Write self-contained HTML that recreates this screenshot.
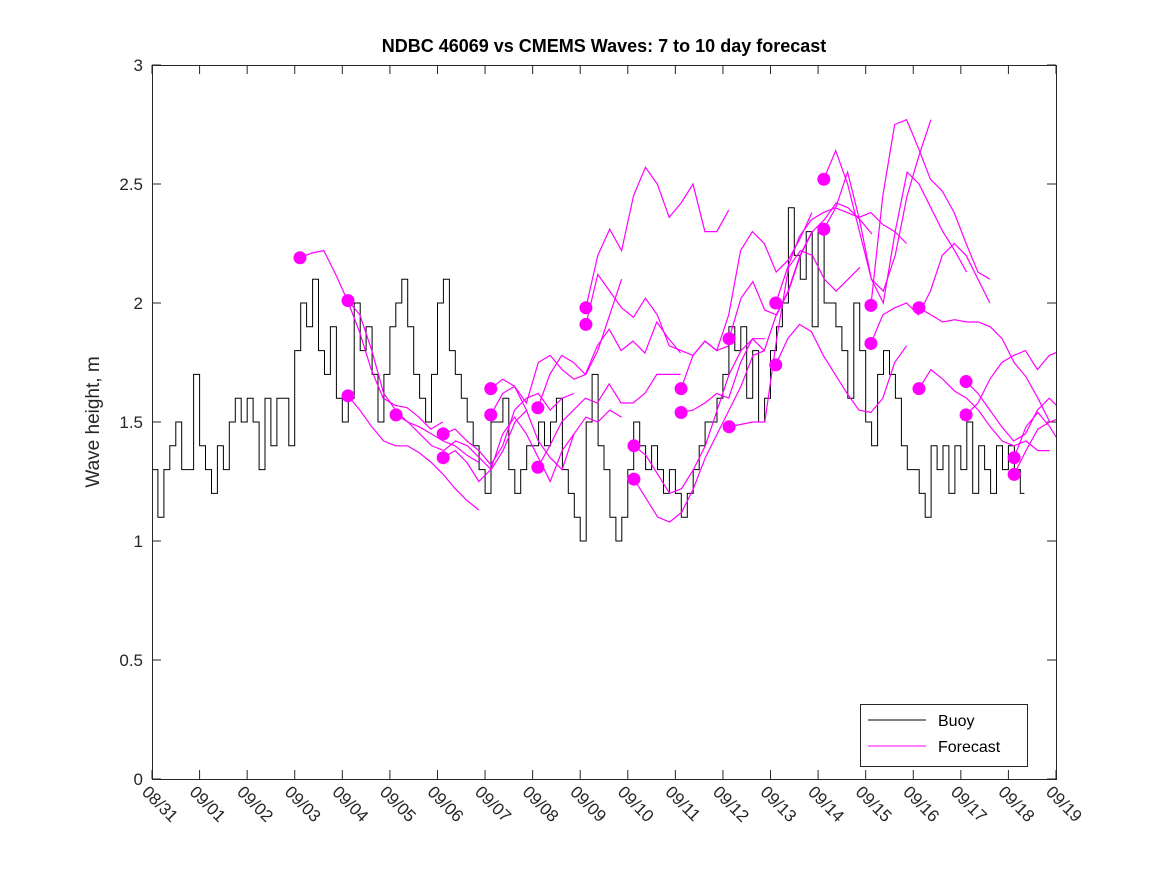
<!DOCTYPE html>
<html><head><meta charset="utf-8"><style>
body{margin:0;background:#fff;}
svg{display:block;font-family:"Liberation Sans","DejaVu Sans",sans-serif;}
</style></head><body>
<svg id="chart" width="1167" height="875" viewBox="0 0 1167 875" xmlns="http://www.w3.org/2000/svg">
<rect width="1167" height="875" fill="#fff"/>
<text x="604" y="52" text-anchor="middle" font-size="18" font-weight="bold" fill="#000">NDBC 46069 vs CMEMS Waves: 7 to 10 day forecast</text>
<text transform="translate(99,422) rotate(-90)" text-anchor="middle" font-size="19" fill="#262626">Wave height, m</text>
<defs><clipPath id="plotclip"><rect x="152" y="65" width="904" height="714"/></clipPath></defs>
<rect x="152" y="65" width="904" height="714" fill="#fff"/>
<g id="axes"></g>
<g id="buoy" clip-path="url(#plotclip)"></g>
<g id="fc" clip-path="url(#plotclip)"></g>
<rect x="152.5" y="65.5" width="904" height="714" fill="none" stroke="#262626" stroke-width="1"/>
<g>
<rect x="860.5" y="704.5" width="167" height="62" fill="#fff" stroke="#262626"/>
<line x1="868" y1="720" x2="926" y2="720" stroke="#000" stroke-width="1"/>
<text x="938" y="726" font-size="16" fill="#000">Buoy</text>
<line x1="868" y1="746" x2="926" y2="746" stroke="#ff00ff" stroke-width="1"/>
<text x="938" y="752" font-size="16" fill="#000">Forecast</text>
</g>
</svg>
<script>
const xTickLabels=["08/31","09/01","09/02","09/03","09/04","09/05","09/06","09/07","09/08","09/09","09/10","09/11","09/12","09/13","09/14","09/15","09/16","09/17","09/18","09/19"];
const yTicks=[0,0.5,1,1.5,2,2.5,3];
const yTickLabels=["0","0.5","1","1.5","2","2.5","3"];
const buoyStep=0.125;
const buoyValues=[1.3,1.1,1.3,1.4,1.5,1.3,1.3,1.7,
1.4,1.3,1.2,1.4,1.3,1.5,1.6,1.5,
1.6,1.5,1.3,1.6,1.4,1.6,1.6,1.4,
1.8,2.0,1.9,2.1,1.8,1.7,1.9,1.6,
1.5,1.6,2.0,1.8,1.9,1.7,1.5,1.7,
1.9,2.0,2.1,1.9,1.7,1.6,1.5,1.7,
2.0,2.1,1.8,1.7,1.6,1.5,1.4,1.3,
1.2,1.5,1.5,1.6,1.3,1.2,1.3,1.4,
1.4,1.5,1.4,1.5,1.6,1.3,1.2,1.1,
1.0,1.5,1.7,1.4,1.3,1.1,1.0,1.1,
1.3,1.5,1.4,1.3,1.4,1.3,1.2,1.3,
1.2,1.1,1.2,1.3,1.4,1.5,1.5,1.6,
1.7,1.9,1.8,1.9,1.6,1.8,1.5,1.6,
1.8,1.9,2.0,2.4,2.2,2.1,2.3,1.9,
2.3,2.0,2.0,1.9,1.8,1.6,2.0,1.8,
1.5,1.4,1.7,1.8,1.7,1.6,1.4,1.3,
1.3,1.2,1.1,1.4,1.3,1.4,1.2,1.4,
1.3,1.5,1.2,1.4,1.3,1.2,1.4,1.3,
1.4,1.3,1.2];
const fcStep=0.25;
const fcStarts=[3.11,4.12,4.12,5.13,6.12,6.12,7.12,7.12,8.11,8.11,9.12,9.12,10.13,10.13,11.12,11.12,12.13,12.13,13.11,13.11,14.12,14.12,15.11,15.11,16.12,16.12,17.11,17.11,18.12,18.12];
const fcValues=[
[2.19,2.21,2.22,2.12,2.01,1.88,1.72,1.60,1.57,1.56,1.52,1.47,1.50],
[2.01,1.95,1.80,1.62,1.55,1.50,1.48,1.45,1.42,1.40,1.36,1.33],
[1.61,1.55,1.48,1.42,1.40,1.40,1.37,1.33,1.28,1.22,1.17,1.13],
[1.53,1.50,1.45,1.40,1.38,1.42,1.40,1.35,1.30,1.38,1.50,1.55],
[1.45,1.47,1.42,1.38,1.32,1.40,1.55,1.60,1.62,1.55,1.60,1.62],
[1.35,1.38,1.33,1.25,1.30,1.45,1.52,1.45,1.35,1.25,1.38,1.45],
[1.64,1.68,1.65,1.58,1.75,1.78,1.72,1.68,1.70,1.80,1.95,2.10],
[1.53,1.62,1.65,1.55,1.42,1.35,1.30,1.45,1.52,1.50,1.55,1.52],
[1.56,1.70,1.78,1.75,1.70,1.82,1.89,1.80,1.84,1.79,1.92,1.85,1.79],
[1.31,1.40,1.50,1.55,1.60,1.58,1.66,1.58,1.58,1.62,1.70,1.70,1.70],
[1.98,2.20,2.31,2.22,2.45,2.57,2.50,2.36,2.42,2.50,2.30,2.30,2.39],
[1.91,2.12,2.05,1.98,1.94,2.02,1.95,1.82,1.80,1.78,1.84,1.80,1.82],
[1.40,1.36,1.28,1.20,1.22,1.30,1.40,1.55,1.70,1.80,1.85,1.85],
[1.26,1.18,1.10,1.08,1.12,1.22,1.35,1.45,1.55,1.65,1.78,1.80],
[1.64,1.78,1.84,1.80,1.95,2.22,2.30,2.25,2.13,2.18,2.27,2.38],
[1.54,1.55,1.58,1.62,1.60,1.75,1.85,1.80,1.95,2.05,2.20,2.30],
[1.85,2.02,2.09,1.97,1.95,2.05,2.20,2.30,2.35,2.42,2.40,2.35,2.29],
[1.48,1.49,1.50,1.50,1.85,2.15,2.22,2.20,2.10,2.05,2.10,2.15],
[2.00,2.15,2.28,2.35,2.38,2.40,2.38,2.36,2.38,2.33,2.30,2.25],
[1.74,1.85,1.91,1.88,1.78,1.70,1.62,1.55,1.54,1.60,1.75,1.82],
[2.52,2.64,2.50,2.30,2.10,2.05,2.20,2.45,2.62,2.77],
[2.31,2.40,2.55,2.35,2.10,2.00,2.30,2.55,2.50,2.40,2.30,2.22,2.13],
[1.99,2.45,2.75,2.77,2.65,2.52,2.47,2.38,2.25,2.13,2.10],
[1.83,1.95,1.98,2.00,1.95,2.05,2.20,2.25,2.20,2.10,2.00],
[1.98,1.95,1.92,1.93,1.92,1.92,1.90,1.85,1.75,1.69,1.60,1.50],
[1.64,1.72,1.68,1.63,1.60,1.55,1.48,1.42,1.40,1.42,1.38,1.38],
[1.67,1.62,1.55,1.48,1.42,1.45,1.55,1.60,1.55,1.50,1.45,1.43],
[1.53,1.58,1.68,1.75,1.78,1.80,1.72,1.78,1.80,1.72,1.65,1.64],
[1.35,1.48,1.54,1.48,1.40,1.42,1.42,1.40],
[1.28,1.38,1.47,1.50,1.52,1.52,1.52,1.52]];

const X0=152,X1=1056,Y0=779,Y1=65,DMAX=19,VMAX=3;
function xs(d){return X0+(X1-X0)*d/DMAX;}
function ys(v){return Y0-(Y0-Y1)*v/VMAX;}
const NS="http://www.w3.org/2000/svg";
function mk(tag,attrs,parent){const e=document.createElementNS(NS,tag);for(const k in attrs)e.setAttribute(k,attrs[k]);parent.appendChild(e);return e;}
const axes=document.getElementById('axes');
xTickLabels.forEach((lab,i)=>{
  const x=xs(i);
  const t1=mk('line',{x1:x,y1:Y0,x2:x,y2:Y0-9,stroke:'#262626'},axes);
  
  
  const t2=mk('line',{x1:x,y1:Y1,x2:x,y2:Y1+9,stroke:'#262626'},axes);
  
  
  const tx=mk('text',{transform:`translate(${x-11},${Y0+14}) rotate(45)`,'font-size':'17',fill:'#262626'},axes);
  tx.textContent=lab;
  
  
});
yTicks.forEach((v,i)=>{
  const y=ys(v);
  const t1=mk('line',{x1:X0,y1:y,x2:X0+9,y2:y,stroke:'#262626'},axes);
  
  
  const t2=mk('line',{x1:X1,y1:y,x2:X1-9,y2:y,stroke:'#262626'},axes);
  
  
  const tx=mk('text',{x:X0-9,y:y+6,'text-anchor':'end','font-size':'17',fill:'#262626'},axes);
  tx.textContent=yTickLabels[i];
  
  
});
const bg=document.getElementById('buoy');
let d='M'+xs(0).toFixed(1)+' '+ys(buoyValues[0]).toFixed(1);
buoyValues.forEach((v,k)=>{
  if(k===0)return;
  const x=xs(k*buoyStep).toFixed(1);
  d+=' H'+x+' V'+ys(v).toFixed(1);
});
d+=' H'+xs(buoyValues.length*buoyStep-0.04).toFixed(1);
const bl=mk('path',{d:d,fill:'none',stroke:'#000','stroke-width':'1'},bg);


const fg=document.getElementById('fc');
fcValues.forEach((vals,i)=>{
  const s=fcStarts[i];
  const pts=vals.map((v,k)=>xs(s+k*fcStep).toFixed(1)+','+ys(v).toFixed(1)).join(' ');
  const pl=mk('polyline',{points:pts,fill:'none',stroke:'#ff00ff','stroke-width':'1.2'},fg);
  
  
});
fcValues.forEach((vals,i)=>{
  const c=mk('circle',{cx:xs(fcStarts[i]),cy:ys(vals[0]),r:6.5,fill:'#ff00ff'},fg);
  
  
});
</script>
</body></html>
